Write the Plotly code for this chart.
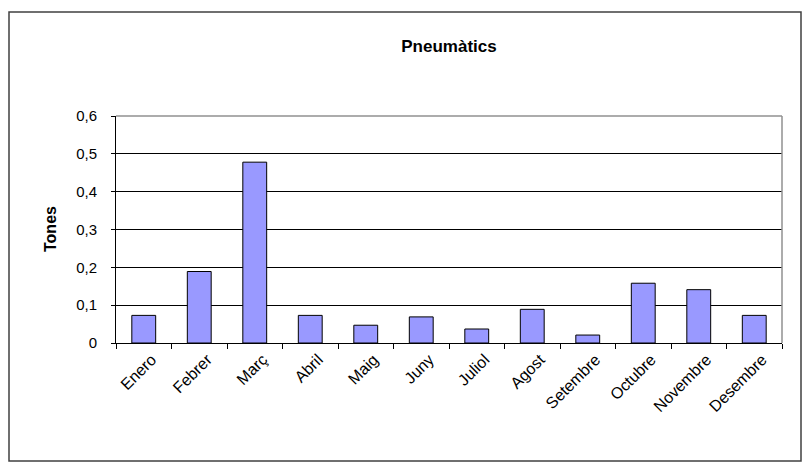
import plotly.graph_objects as go

months = ["Enero", "Febrer", "Març", "Abril", "Maig", "Juny", "Juliol",
          "Agost", "Setembre", "Octubre", "Novembre", "Desembre"]
tones = [0.073, 0.189, 0.478, 0.073, 0.047, 0.069, 0.037, 0.089, 0.021, 0.158, 0.141, 0.073]
y_tick_vals = [0, 0.1, 0.2, 0.3, 0.4, 0.5, 0.6]
y_tick_text = ["0", "0,1", "0,2", "0,3", "0,4", "0,5", "0,6"]

# the page body adds an 8px margin, so the figure is drawn 8px smaller/offset
OFF = 8
W, H = 811 - OFF, 468 - OFF
L, R, T, B = 116 - OFF, 782 - OFF, 116 - OFF, 343 - OFF
pw, ph = R - L, B - T

def px(x):
    return (x - OFF - L) / pw

def py(y):
    return (B - (y - OFF)) / ph

fig = go.Figure(go.Bar(
    x=months, y=tones,
    marker=dict(color="#9999FF", line=dict(color="black", width=1)),
))

fig.update_layout(
    width=W, height=H,
    margin=dict(l=L, r=W - R, t=T, b=H - B),
    paper_bgcolor="white", plot_bgcolor="white",
    bargap=0.57,
    showlegend=False,
    font=dict(family="Liberation Sans, Arial, sans-serif", size=14, color="black"),
    title=dict(text="<b>Pneumàtics</b>", x=0.5, xref="paper", xanchor="center",
               y=1 - (46 - OFF) / H, yanchor="middle",
               font=dict(size=17, color="black")),
    xaxis=dict(
        type="category", tickangle=-45, tickson="boundaries",
        ticks="outside", ticklen=5, tickcolor="black", tickwidth=1,
        showline=True, linecolor="black", linewidth=1,
        showgrid=False, tickfont=dict(size=16),
        ticklabelshift=8,
    ),
    yaxis=dict(
        range=[0, 0.6], tickvals=y_tick_vals, ticktext=y_tick_text,
        ticks="outside", ticklen=4, tickcolor="black",
        showline=True, linecolor="black", linewidth=1,
        showgrid=True, gridcolor="black", gridwidth=1,
        zeroline=False, tickfont=dict(size=15),
        ticklabelstandoff=11,
    ),
    annotations=[dict(
        text="<b>Tones</b>", xref="paper", yref="paper",
        x=px(40), y=0.5, textangle=-90, showarrow=False,
        font=dict(size=16, color="black"),
    )],
    shapes=[
        dict(type="line", xref="paper", yref="paper", x0=0, x1=1, y0=1, y1=1,
             line=dict(color="#909090", width=1.5), layer="above"),
        dict(type="line", xref="paper", yref="paper", x0=1, x1=1, y0=0, y1=1,
             line=dict(color="#909090", width=1.5), layer="above"),
        dict(type="rect", xref="paper", yref="paper",
             x0=px(9), x1=px(801), y0=py(461), y1=py(12),
             line=dict(color="#404040", width=1.5), layer="above"),
    ],
)

fig.write_html("out.html")
